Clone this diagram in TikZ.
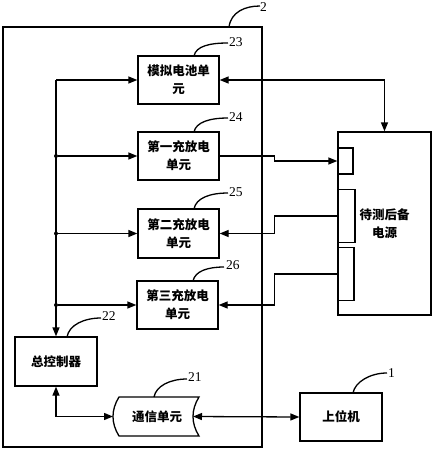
\documentclass[tikz,border=0pt]{standalone}
\usepackage{fontspec}
\setmainfont{Liberation Serif}
\newfontfamily\cjk{Noto Sans CJK SC}
\usetikzlibrary{arrows.meta,calc}
\tikzset{
  cjkfont/.style={font=\cjk\bfseries\fontsize{12.5}{18}\selectfont},
  box/.style={draw,line width=1.3pt,rectangle,inner sep=0pt,align=center,cjkfont},
  arr/.style={line width=1.3pt,-{Triangle[length=9pt,width=7pt]}},
  rarr/.style={line width=1.3pt,{Triangle[length=9pt,width=7pt]}-},
  barr/.style={line width=1.3pt,{Triangle[length=9pt,width=7pt]}-{Triangle[length=9pt,width=7pt]}},
  ln/.style={line width=1.3pt},
  lead/.style={line width=1.3pt},
  num/.style={font=\fontsize{13.5}{13.5}\selectfont,inner sep=0pt,anchor=west},
  dot/.style={circle,fill,inner sep=0pt,minimum size=4pt}
}
\begin{document}
\begin{tikzpicture}[x=1pt,y=-1pt]
\useasboundingbox (0,0) rectangle (434,450);
% outer box 2
\draw[ln] (3,27) rectangle (262,447);
\node[box,minimum width=81pt,minimum height=48pt] (n23) at (178.5,80) {模拟电池单\\元};
\node[box,minimum width=81pt,minimum height=48pt] (n24) at (178.5,156) {第一充放电\\单元};
\node[box,minimum width=81pt,minimum height=49pt] (n25) at (178.5,233.5) {第二充放电\\单元};
\node[box,minimum width=81pt,minimum height=48pt] (n26) at (177.5,305) {第三充放电\\单元};
\node[box,minimum width=82pt,minimum height=49pt] (n22) at (56,361.5) {总控制器};
\node[box,minimum width=82pt,minimum height=48pt] (n1) at (341,417) {上位机};
\node[box,minimum width=93pt,minimum height=183pt] (ps) at (384.5,223.5) {待测后备\\电源};
\node[box,minimum width=15pt,minimum height=26pt] (s1) at (345.5,161) {};
\node[box,minimum width=17pt,minimum height=53pt] (s2) at (346.5,216) {};
\node[box,minimum width=16pt,minimum height=53pt] (s3) at (346,274) {};
% communication unit 21
\node[inner sep=0pt,cjkfont,minimum width=84pt,minimum height=39pt] (n21) at (157,416.5) {通信单元};
\draw[ln] (119,397) -- (199,397) .. controls (191,410) and (191,423) .. (199,436) -- (119,436) .. controls (111,423) and (111,410) .. (119,397) -- cycle;
\coordinate (c21L) at (113,416.5);
\coordinate (c21R) at (193,416.5);
% bus
\coordinate (bustop) at (n22.north |- n23.west);
\draw[arr] (bustop) -- (n23.west);
\draw[arr] (bustop) -- (n22.north);
\node[dot] (d24) at (n22.north |- n24.west) {};
\node[dot] (d25) at (n22.north |- n25.west) {};
\node[dot] (d26) at (n22.north |- n26.west) {};
\draw[arr] (d24) -- (n24.west);
\draw[arr] (d25) -- (n25.west);
\draw[arr] (d26) -- (n26.west);
% right side connections
\draw[barr] (n23.east) -| (ps.north);
\draw[arr] (n24.east) -- ++(55,0) |- (s1.west);
\draw[rarr] (n25.east) -- ++(55,0) |- (s2.west);
\draw[rarr] (n26.east) -- ++(56,0) |- (s3.west);
% bottom
\draw[barr] (n22.south) |- (c21L);
\draw[barr] (c21R) -- (n1.west);
% leader lines and labels
\draw[lead] (229,27) .. controls (231,12) and (245,6) .. (260,6);
\node[num] (l2) at (260,7) {2};
\draw[lead] (194,56) .. controls (196,46) and (210,43) .. (228,43);
\node[num] (l23) at (229,42) {23};
\draw[lead] (194,132) .. controls (196,122) and (210,118) .. (228,118);
\node[num] (l24) at (229,117) {24};
\draw[lead] (194,209) .. controls (196,198) and (210,193) .. (228,193);
\node[num] (l25) at (229,192) {25};
\draw[lead] (193,281) .. controls (195,271) and (208,267) .. (224,267);
\node[num] (l26) at (226,265) {26};
\draw[lead] (67,337) .. controls (69,325) and (84,318) .. (101,318);
\node[num] (l22) at (102,316) {22};
\draw[lead] (154,397) .. controls (156,386) and (170,379) .. (187,379);
\node[num] (l21) at (188,377) {21};
\draw[lead] (353,393) .. controls (355,382) and (370,373) .. (387,373);
\node[num] (l1) at (388,373) {1};
\end{tikzpicture}
\end{document}
